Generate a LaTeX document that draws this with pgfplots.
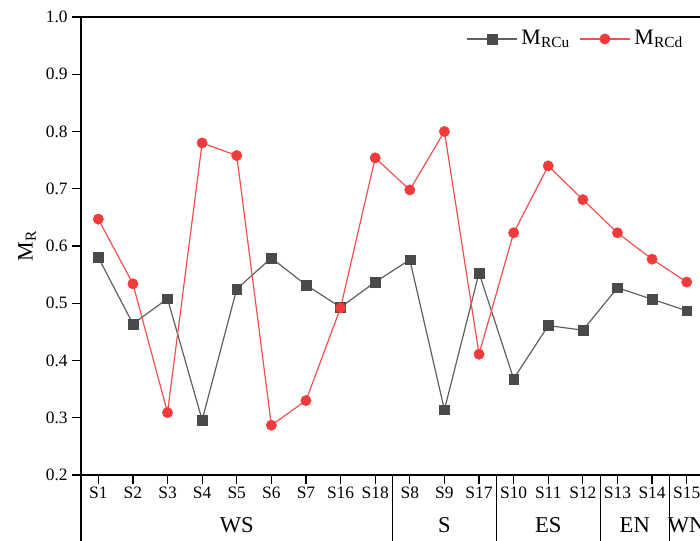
\documentclass[border=0pt]{standalone}
\usepackage{fontspec}
\setmainfont{Liberation Serif}
\usepackage{pgfplots}
\pgfplotsset{compat=1.18}

\definecolor{cuGray}{RGB}{74,74,74}
\definecolor{cuLine}{RGB}{95,95,95}
\definecolor{cdRed}{RGB}{239,59,59}
\definecolor{cdLine}{RGB}{242,80,80}

% M_RCu and M_RCd for each sampling site, sites ordered by region
\pgfplotstableread{
idx site Cu    Cd
0   S1   0.580 0.647
1   S2   0.464 0.534
2   S3   0.508 0.309
3   S4   0.296 0.780
4   S5   0.525 0.758
5   S6   0.579 0.287
6   S7   0.532 0.330
7   S16  0.493 0.492
8   S18  0.537 0.754
9   S8   0.576 0.698
10  S9   0.314 0.800
11  S17  0.553 0.411
12  S10  0.368 0.623
13  S11  0.461 0.740
14  S12  0.453 0.681
15  S13  0.527 0.623
16  S14  0.507 0.577
17  S15  0.487 0.537
}\sites

\begin{document}
\begin{tikzpicture}
\useasboundingbox (0,0) rectangle (350pt,270pt);
\clip (0,0) rectangle (350pt,270pt);
\begin{axis}[
  at={(40.5pt,32.5pt)}, anchor=south west,
  scale only axis, width=311.5pt, height=229pt,
  xmin=-0.5, xmax=17.5, ymin=0.2, ymax=1.0,
  xtick={0,...,17},
  xticklabels={S1,S2,S3,S4,S5,S6,S7,S16,S18,S8,S9,S17,S10,S11,S12,S13,S14,S15},
  ytick={0.2,0.3,0.4,0.5,0.6,0.7,0.8,0.9,1.0},
  yticklabel style={/pgf/number format/fixed,/pgf/number format/fixed zerofill,/pgf/number format/precision=1},
  /pgf/number format/assume math mode=true,
  xtick pos=bottom, ytick pos=left,
  tick align=outside, major tick length=4.5pt,
  tick style={line width=0.6pt, black},
  axis line style={line width=0.6pt},
  tick label style={font=\fontsize{8.7}{10}\selectfont},
  xticklabel style={inner sep=1.5pt},
  yticklabel style={inner sep=2pt},
  ylabel={M\textsubscript{R}},
  ylabel style={at={(axis description cs:-0.0867,0.5)}, anchor=center, font=\fontsize{11}{13}\selectfont},
  clip=false,
  legend columns=2,
  legend style={draw=none, fill=none, at={(0.977,0.985)}, anchor=north east,
    font=\fontsize{11}{13}\selectfont, inner sep=1pt,
    /tikz/every even column/.append style={column sep=2.5pt}},
  legend cell align=left,
  legend image code/.code={\draw[mark repeat=2,mark phase=2] plot coordinates {(0pt,0pt) (12.5pt,0pt) (25pt,0pt)};},
]
\addplot[cuLine, line width=0.6pt, mark=square*, mark size=2.45pt,
  mark options={fill=cuGray, draw=cuGray, line width=0.2pt}] table[x=idx, y=Cu] {\sites};
\addlegendentry{M\textsubscript{RCu}}
\addplot[cdLine, line width=0.6pt, mark=*, mark size=2.6pt,
  mark options={fill=cdRed, draw=cdRed, line width=0.2pt}] table[x=idx, y=Cd] {\sites};
\addlegendentry{M\textsubscript{RCd}}

% region brackets below the site labels
\pgfplotsinvokeforeach{-0.5,8.5,11.5,14.5,16.5}{
  \draw[line width=0.6pt] (axis cs:#1,0.2) -- ([yshift=-40pt]axis cs:#1,0.2);
}
\node[font=\fontsize{11.3}{13}\selectfont] at ([yshift=-25pt]axis cs:4,0.2) {WS};
\node[font=\fontsize{11.3}{13}\selectfont] at ([yshift=-25pt]axis cs:10,0.2) {S};
\node[font=\fontsize{11.3}{13}\selectfont] at ([yshift=-25pt]axis cs:13,0.2) {ES};
\node[font=\fontsize{11.3}{13}\selectfont] at ([yshift=-25pt]axis cs:15.5,0.2) {EN};
\node[font=\fontsize{11.3}{13}\selectfont] at ([yshift=-25pt]axis cs:17,0.2) {WN};
\end{axis}
\end{tikzpicture}
\end{document}
